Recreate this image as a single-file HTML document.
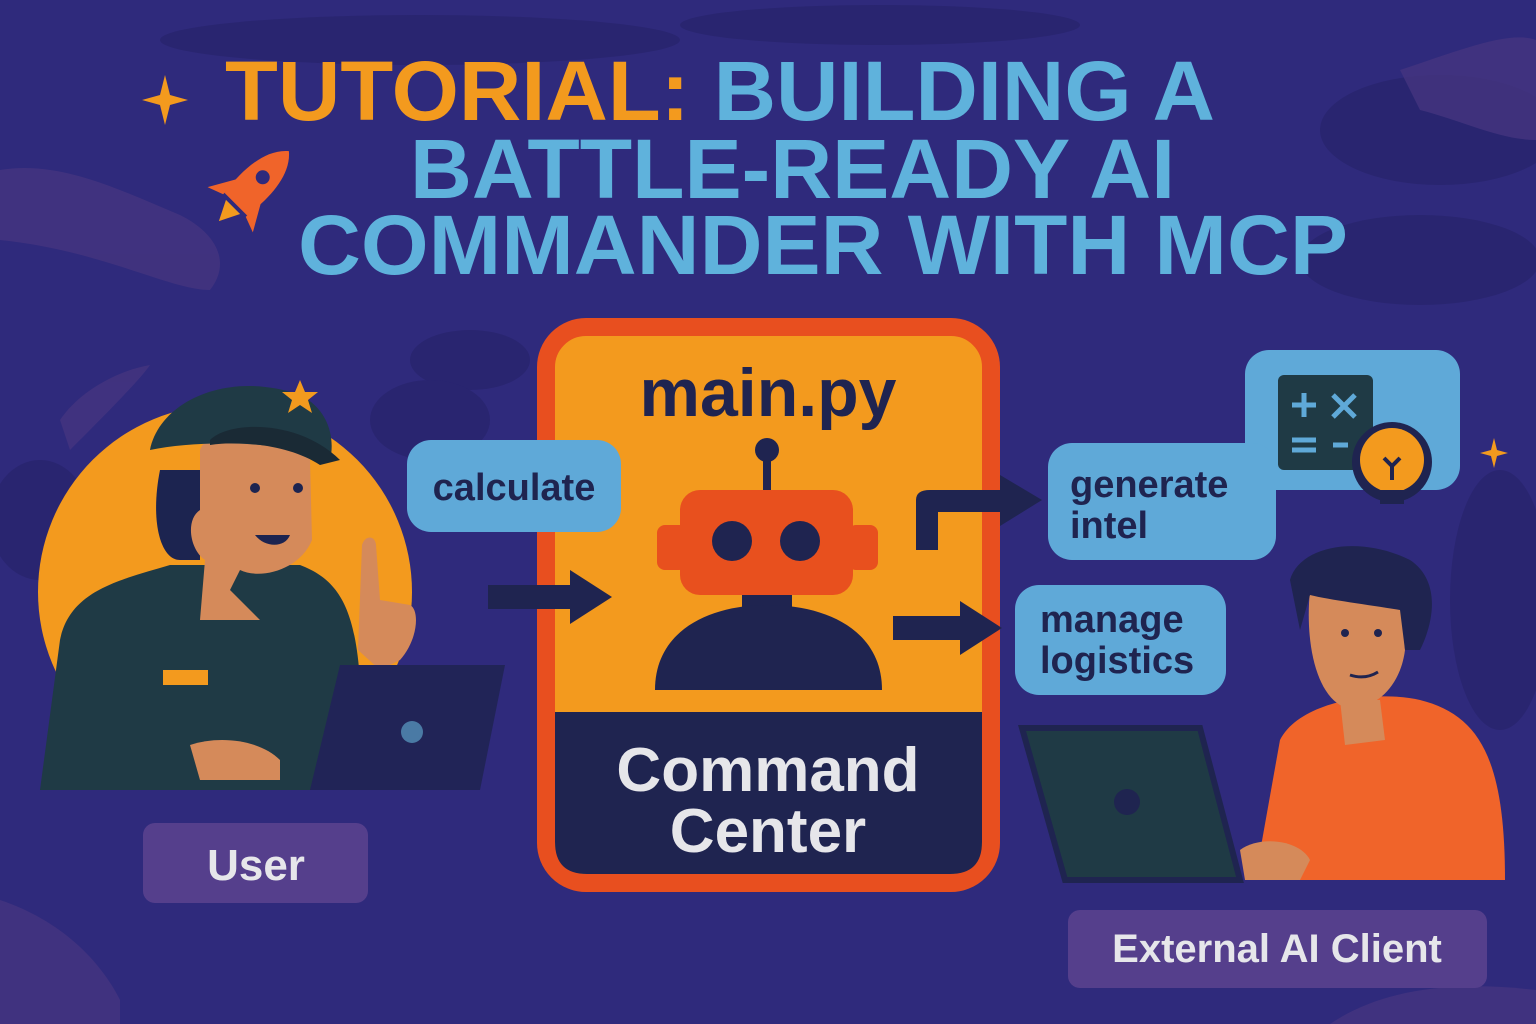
<!DOCTYPE html>
<html><head><meta charset="utf-8"><style>
html,body{margin:0;padding:0;background:#2e2a7c;}
svg{display:block}
text{font-family:"Liberation Sans",sans-serif;font-weight:bold}
</style></head><body>
<svg width="1536" height="1024" viewBox="0 0 1536 1024" xmlns="http://www.w3.org/2000/svg">
<rect width="1536" height="1024" fill="#2f2a7c"/>
<g fill="#29256f" opacity="0.9">
<ellipse cx="420" cy="40" rx="260" ry="25"/>
<ellipse cx="880" cy="25" rx="200" ry="20"/>
<ellipse cx="1440" cy="130" rx="120" ry="55"/>
<ellipse cx="1420" cy="260" rx="120" ry="45"/>
<ellipse cx="470" cy="360" rx="60" ry="30"/>
<ellipse cx="1500" cy="600" rx="50" ry="130"/>
<ellipse cx="40" cy="520" rx="50" ry="60"/>
<ellipse cx="430" cy="420" rx="60" ry="40"/>
</g>
<g fill="#45357f" opacity="0.8">
<path d="M0 170 C60 160 120 190 180 215 C220 235 230 265 210 290 C170 290 100 250 0 240Z"/>
<path d="M1400 70 C1460 50 1510 30 1536 40 L1536 140 C1500 140 1460 120 1420 110Z"/>
<path d="M60 420 C80 390 120 370 150 365 C140 380 100 420 70 450Z"/>
<path d="M0 900 C60 920 100 960 120 1000 L120 1024 L0 1024Z"/>
<path d="M1330 1024 C1380 990 1450 980 1536 990 L1536 1024Z"/>
</g>
<g font-size="84" lengthAdjust="spacingAndGlyphs">
<text x="225" y="120" fill="#f39a1e" textLength="990" lengthAdjust="spacingAndGlyphs">TUTORIAL: <tspan fill="#5fb2dc">BUILDING A</tspan></text>
<text x="410" y="198" fill="#5fb2dc" textLength="765" lengthAdjust="spacingAndGlyphs">BATTLE-READY AI</text>
<text x="298" y="274" fill="#5fb2dc" textLength="1050" lengthAdjust="spacingAndGlyphs">COMMANDER WITH MCP</text>
</g>
<path d="M165 75 L170 95 L188 100 L170 105 L165 125 L160 105 L142 100 L160 95Z" fill="#f39a1e"/>
<path d="M1494 438 L1497 450 L1508 453 L1497 456 L1494 468 L1491 456 L1480 453 L1491 450Z" fill="#f39a1e"/>
<g transform="translate(250,190) rotate(45)" fill="#f0642a">
<path d="M0 -55 C18 -40 20 -10 16 20 L-16 20 C-20 -10 -18 -40 0 -55Z"/>
<path d="M-16 0 L-32 28 L-16 22Z"/><path d="M16 0 L32 28 L16 22Z"/>
<circle cx="0" cy="-18" r="7" fill="#2f2a7c"/>
<path d="M-10 24 L0 44 L10 24Z" fill="#f39a1e"/>
</g>
<circle cx="225" cy="592" r="187" fill="#f39a1e"/>
<path d="M40 790 L60 640 C70 590 120 580 170 565 L300 565 C340 580 355 610 360 680 L370 790Z" fill="#1f3a45"/>
<path d="M160 470 C150 520 160 560 180 560 L200 560 L200 470Z" fill="#1c2450"/>
<path d="M200 450 C210 420 300 430 310 460 L312 540 C300 570 260 580 240 570 L230 590 L260 620 L200 620 L205 560 C190 550 185 520 200 510Z" fill="#d58a5a"/>
<path d="M150 450 C160 400 230 370 300 395 C330 410 335 440 330 460 C280 440 200 440 150 450Z" fill="#1f3a45"/>
<path d="M210 440 C230 420 300 420 340 460 L320 465 C290 445 240 440 210 445Z" fill="#1a2a35"/>
<path d="M300 380 L305 392 L318 392 L308 400 L312 413 L300 405 L288 413 L292 400 L282 392 L295 392Z" fill="#f39a1e"/>
<circle cx="255" cy="488" r="5" fill="#1c2450"/><circle cx="298" cy="488" r="5" fill="#1c2450"/>
<path d="M255 535 C265 548 285 548 290 535Z" fill="#1c2450"/>
<rect x="163" y="670" width="45" height="15" fill="#f39a1e"/>
<path d="M358 650 L362 545 C365 535 375 535 376 545 L380 600 L410 605 C420 610 418 640 400 660 L380 670Z" fill="#d58a5a"/>
<path d="M340 665 L505 665 L480 790 L310 790Z" fill="#212457"/>
<circle cx="412" cy="732" r="11" fill="#4a7aa5"/>
<path d="M190 745 C220 735 260 740 280 760 L280 780 L200 780Z" fill="#d58a5a"/>
<rect x="143" y="823" width="225" height="80" rx="12" fill="#553f8c"/>
<text x="256" y="880" font-size="44" fill="#e6e6ea" text-anchor="middle">User</text>
<rect x="546" y="327" width="445" height="556" rx="40" fill="#f39a1e" stroke="#e84f1f" stroke-width="18"/>
<path d="M555 712 L982 712 L982 842 Q982 874 950 874 L587 874 Q555 874 555 842Z" fill="#1f2450"/>
<text x="768" y="416" font-size="68" fill="#1f2450" text-anchor="middle">main.py</text>
<text x="768" y="791" font-size="62" fill="#e6e6ea" text-anchor="middle">Command</text>
<text x="768" y="852" font-size="62" fill="#e6e6ea" text-anchor="middle">Center</text>
<rect x="763" y="455" width="8" height="40" fill="#1f2450"/>
<circle cx="767" cy="450" r="12" fill="#1f2450"/>
<rect x="657" y="525" width="30" height="45" rx="8" fill="#e8501e"/>
<rect x="848" y="525" width="30" height="45" rx="8" fill="#e8501e"/>
<rect x="680" y="490" width="173" height="105" rx="20" fill="#e8501e"/>
<circle cx="732" cy="541" r="20" fill="#1f2450"/><circle cx="800" cy="541" r="20" fill="#1f2450"/>
<rect x="742" y="595" width="50" height="15" fill="#1f2450"/>
<path d="M655 690 C655 630 710 605 768 605 C826 605 882 630 882 690Z" fill="#1f2450"/>
<g fill="#1f2450">
<rect x="488" y="585" width="85" height="24"/><path d="M570 570 L612 597 L570 624Z"/>
<rect x="893" y="616" width="70" height="24"/><path d="M960 601 L1002 628 L960 655Z"/>
<path d="M893 550 L916 550 L916 500 Q916 490 930 490 L1005 490 L1005 512 L938 512 L938 550 L893 550Z"/>
<path d="M1000 475 L1042 500 L1000 526Z"/>
</g>
<rect x="407" y="440" width="214" height="92" rx="24" fill="#5fa9d8"/>
<text x="514" y="500" font-size="38" fill="#1f2450" text-anchor="middle">calculate</text>
<rect x="1245" y="350" width="215" height="140" rx="24" fill="#5fa9d8"/>
<rect x="1048" y="443" width="228" height="117" rx="24" fill="#5fa9d8"/>
<text x="1070" y="497" font-size="38" fill="#1f2450">generate</text>
<text x="1070" y="538" font-size="38" fill="#1f2450">intel</text>
<rect x="1015" y="585" width="211" height="110" rx="24" fill="#5fa9d8"/>
<text x="1040" y="632" font-size="38" fill="#1f2450">manage</text>
<text x="1040" y="673" font-size="38" fill="#1f2450">logistics</text>
<rect x="1278" y="375" width="95" height="95" rx="6" fill="#1f3a45"/>
<g stroke="#5fa9d8" stroke-width="5">
<line x1="1292" y1="405" x2="1316" y2="405"/><line x1="1304" y1="393" x2="1304" y2="417"/>
<line x1="1333" y1="395" x2="1355" y2="417"/><line x1="1355" y1="395" x2="1333" y2="417"/>
<line x1="1292" y1="440" x2="1316" y2="440"/><line x1="1292" y1="450" x2="1316" y2="450"/>
<line x1="1333" y1="445" x2="1348" y2="445"/>
</g>
<circle cx="1392" cy="462" r="40" fill="#1f2450"/>
<circle cx="1392" cy="460" r="32" fill="#f39a1e"/>
<rect x="1380" y="490" width="24" height="14" fill="#1f2450"/>
<path d="M1392 480 L1392 465 M1384 458 L1392 466 L1400 458" stroke="#1f2450" stroke-width="4" fill="none"/>
<path d="M1255 880 L1280 740 C1300 700 1380 690 1420 700 C1480 715 1505 760 1505 880Z" fill="#f0642a"/>
<path d="M1340 700 L1380 700 L1385 740 L1345 745Z" fill="#d58a5a"/>
<path d="M1310 590 L1400 590 L1405 650 C1400 690 1370 715 1340 705 C1315 690 1305 640 1310 590Z" fill="#d58a5a"/>
<path d="M1290 580 C1300 545 1360 535 1410 560 C1440 580 1435 620 1420 650 L1405 650 L1400 610 C1370 605 1330 600 1310 595 L1300 630 Z" fill="#1f2450"/>
<circle cx="1345" cy="633" r="4" fill="#1f2450"/><circle cx="1378" cy="633" r="4" fill="#1f2450"/>
<path d="M1350 675 Q1365 680 1378 672" stroke="#1f2450" stroke-width="3" fill="none"/>
<path d="M1022 728 L1200 728 L1240 880 L1065 880Z" fill="#1f3a45" stroke="#1f2450" stroke-width="6"/>
<circle cx="1127" cy="802" r="13" fill="#1f2450"/>
<path d="M1240 850 C1260 835 1300 840 1310 860 L1300 880 L1245 880Z" fill="#d58a5a"/>
<rect x="1068" y="910" width="419" height="78" rx="12" fill="#553f8c"/>
<text x="1277" y="962" font-size="40" fill="#e6e6ea" text-anchor="middle">External AI Client</text>
</svg>
</body></html>
